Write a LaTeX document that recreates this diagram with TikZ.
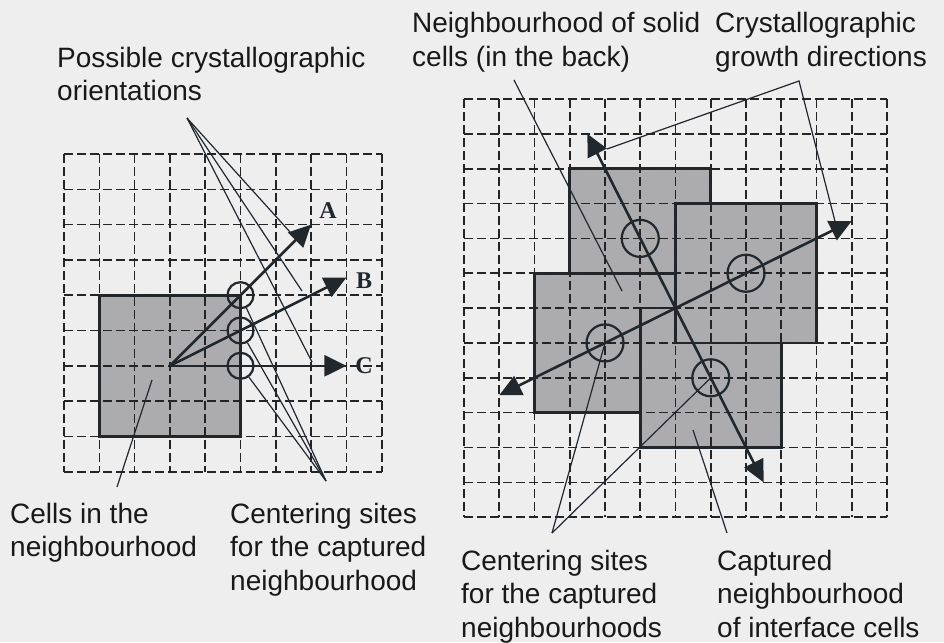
\documentclass[tikz,border=0pt]{standalone}
\usepackage{fontspec}
\setmainfont{Liberation Sans}
\newfontfamily\serifb{Liberation Serif}
\usetikzlibrary{arrows.meta}
\definecolor{bg}{RGB}{238,238,239}
\definecolor{cellgray}{RGB}{172,172,174}
\definecolor{ink}{RGB}{32,40,46}
\definecolor{gridink}{RGB}{36,36,36}
\begin{document}
\begin{tikzpicture}[x=1pt,y=-1pt,
  gridline/.style={gridink, line width=1.6pt, dash pattern=on 9pt off 4pt},
  cellsq/.style={fill=cellgray, draw=ink, line width=2.6pt},
  site/.style={circle, draw=ink, line width=2.2pt, inner sep=0pt},
  growarrow/.style={ink, line width=2.6pt, -{Triangle[length=22pt,width=21pt]}},
  leader/.style={ink, line width=1.2pt},
  lab/.style={anchor=base west, align=left, inner sep=0pt, font=\fontsize{28}{33.5}\selectfont, text=black!90},
  letter/.style={font=\serifb\bfseries\fontsize{24}{24}\selectfont, inner sep=0pt, text=ink}]

\fill[bg] (0,0) rectangle (944,642);
\useasboundingbox (0,0) rectangle (944,642);

% ---------------- left grid ----------------
\begin{scope}[shift={(64pt,-154pt)}, x=35.3pt, y=-35.3pt]
  \draw[cellsq] (1,4) rectangle (5,8);
  \foreach \i in {0,...,9} {
    \draw[gridline] (\i,0) -- (\i,9);
    \draw[gridline] (0,\i) -- (9,\i);
  }
  \coordinate (lo) at (3,6);
  \coordinate (lA) at (7,2);
  \coordinate (lB) at (8,3.5);
  \coordinate (lC) at (8,6);
  \draw[growarrow] (lo) -- (lA);
  \draw[growarrow] (lo) -- (lB);
  \draw[growarrow] (lo) -- (lC);
  \node[site, minimum size=26pt] (lc1) at (5,4) {};
  \node[site, minimum size=26pt] (lc2) at (5,5) {};
  \node[site, minimum size=26pt] (lc3) at (5,6) {};
\end{scope}

\node[letter] (la) at (328,211) {A};
\node[letter] (lb) at (364,281) {B};
\node[letter] (lcl) at (364,366) {C};

% ---------------- right grid ----------------
\begin{scope}[shift={(464pt,-99pt)}, x=35.25pt, y=-34.85pt]
  \draw[cellsq] (3,2) rectangle (7,6);
  \draw[cellsq] (2,5) rectangle (6,9);
  \draw[cellsq] (5,6) rectangle (9,10);
  \draw[cellsq] (6,3) rectangle (10,7);
  \foreach \i in {0,...,12} {
    \draw[gridline] (\i,0) -- (\i,12);
    \draw[gridline] (0,\i) -- (12,\i);
  }
  \coordinate (ro) at (6,6);
  \coordinate (rNE) at (11,3.5);
  \coordinate (rSW) at (1,8.5);
  \coordinate (rNW) at (3.5,1);
  \coordinate (rSE) at (8.5,11);
  \draw[growarrow] (ro) -- (rNE);
  \draw[growarrow] (ro) -- (rSW);
  \draw[growarrow] (ro) -- (rNW);
  \draw[growarrow] (ro) -- (rSE);
  \node[site, minimum size=37pt] (rc1) at (5,4) {};
  \node[site, minimum size=37pt] (rc2) at (8,5) {};
  \node[site, minimum size=37pt] (rc3) at (4,7) {};
  \node[site, minimum size=37pt] (rc4) at (7,8) {};
\end{scope}

% ---------------- labels (anchor = baseline of last line) ----------------
\node[lab] (poss) at (57,100.5) {Possible crystallographic\\orientations};
\node[lab] (neigh) at (412,66.5) {Neighbourhood of solid\\cells (in the back)};
\node[lab] (cryst) at (715,66.5) {Crystallographic\\growth directions};
\node[lab] (cells) at (10,556.5) {Cells in the\\neighbourhood};
\node[lab] (centl) at (230,590) {Centering sites\\for the captured\\neighbourhood};
\node[lab] (centr) at (461,637) {Centering sites\\for the captured\\neighbourhoods};
\node[lab] (capt) at (717,637) {Captured\\neighbourhood\\of interface cells};

% ---------------- leaders ----------------
\coordinate (possapex) at (187,118);
\coordinate (possA) at (290,232);
\coordinate (possB) at (302,291);
\coordinate (possC) at (312,362);
\draw[leader] (possapex) -- (possA);
\draw[leader] (possapex) -- (possB);
\draw[leader] (possapex) -- (possC);

\coordinate (centlapex) at (326,481);
\draw[leader] (centlapex) -- (lc1);
\draw[leader] (centlapex) -- (lc2);
\draw[leader] (centlapex) -- (lc3);

\coordinate (cellsfoot) at (117,487);
\coordinate (cellsin) at (152,380);
\draw[leader] (cellsfoot) -- (cellsin);

\coordinate (neighfoot) at (514,80);
\coordinate (neighin) at (622,291);
\draw[leader] (neighfoot) -- (neighin);

\coordinate (crystapex) at (799,81);
\coordinate (crystNW) at (607,149);
\coordinate (crystNE) at (838,233);
\draw[leader] (crystNW) -- (crystapex) -- (crystNE);

\coordinate (centrapex) at (552,533);
\draw[leader] (centrapex) -- (rc3.center);
\draw[leader] (centrapex) -- (rc4.center);

\coordinate (captfoot) at (727,533);
\coordinate (captin) at (693,430);
\draw[leader] (captfoot) -- (captin);
\end{tikzpicture}
\end{document}
